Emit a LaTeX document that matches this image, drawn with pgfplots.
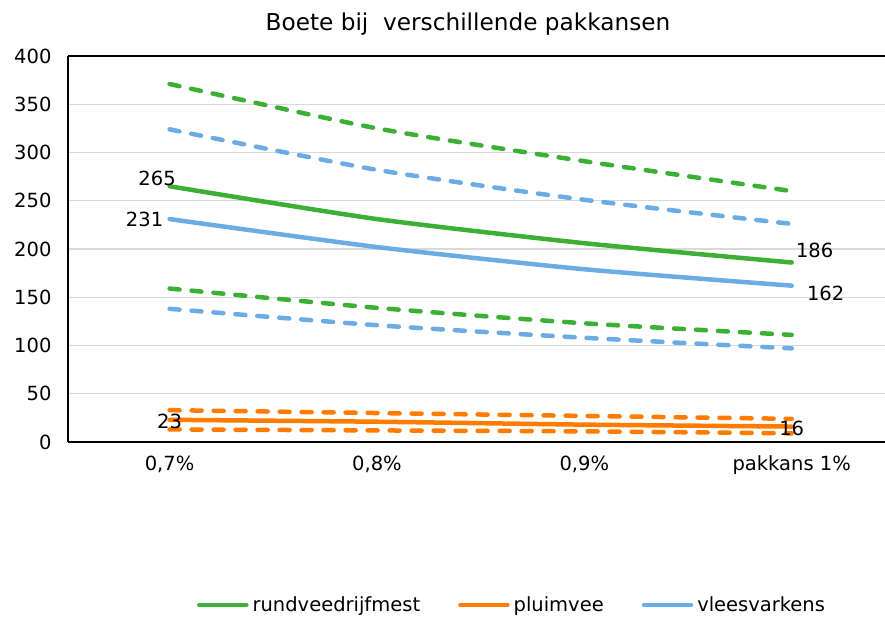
\documentclass[border=0pt]{standalone}
\usepackage{pgfplots}
\pgfplotsset{compat=1.18}
\usepackage{fontspec}
\setmainfont{DejaVu Sans}
\definecolor{cgreen}{RGB}{60,176,52}
\definecolor{corange}{RGB}{255,124,0}
\definecolor{cblue}{RGB}{108,172,228}
\definecolor{cgrid}{RGB}{217,217,217}
\begin{document}
\begin{tikzpicture}
\begin{axis}[
  scale only axis, width=817pt, height=386pt,
  xmin=-0.49, xmax=3.45, ymin=0, ymax=400,
  xtick={0,1,2,3},
  xticklabels={{0,7\%},{0,8\%},{0,9\%},{pakkans 1\%}},
  ytick={0,50,...,400},
  ymajorgrids, grid style={color=cgrid, line width=1.3pt},
  axis x line*=box, axis y line*=left,
  axis line style={black, line width=1.5pt},
  tick style={draw=none},
  tick label style={font=\fontsize{19.5}{23}\selectfont},
  /pgf/number format/assume math mode=true,
  yticklabel style={xshift=-13pt},
  xticklabel style={yshift=-10pt},
  legend style={at={(axis description cs:0.5435,-0.422)}, anchor=center, draw=none, fill=none,
    font=\fontsize{19.5}{23}\selectfont, legend columns=-1,
    /tikz/every even column/.append style={column sep=36pt},
    /tikz/every odd column/.append style={column sep=2pt}},
  legend image code/.code={\draw[#1] (0pt,0pt) -- (47pt,0pt);},
  sol/.style={line width=4.5pt, smooth, tension=0.4, line cap=round},
  das/.style={line width=4.5pt, smooth, tension=0.4, line cap=round, dash pattern=on 10pt off 12pt},
]
% dashed bands
\addplot[das, cgreen, forget plot] coordinates {(0,371) (1,325) (2,291) (3,260)};
\addplot[das, cgreen, forget plot] coordinates {(0,159) (1,139) (2,123) (3,111)};
\addplot[das, cblue, forget plot] coordinates {(0,324) (1,282) (2,251) (3,226)};
\addplot[das, cblue, forget plot] coordinates {(0,138) (1,121) (2,108) (3,97)};
\addplot[das, corange, forget plot] coordinates {(0,33) (1,30) (2,27) (3,24)};
\addplot[das, corange, forget plot] coordinates {(0,13) (1,12) (2,11) (3,9)};
% central lines
\addplot[sol, cgreen] coordinates {(0,265) (1,231) (2,206) (3,186)};
\addlegendentry{rundveedrijfmest}
\addplot[sol, corange] coordinates {(0,23) (1,21) (2,18) (3,16)};
\addlegendentry{pluimvee}
\addplot[sol, cblue] coordinates {(0,231) (1,202) (2,179) (3,162)};
\addlegendentry{vleesvarkens}
% data labels
\begin{scope}[every node/.style={font=\fontsize{19.5}{23}\selectfont, inner sep=0pt}]
\node[xshift=-12.5pt, yshift=8pt] at (axis cs:0,265) {265};
\node[xshift=-25pt, yshift=0pt] at (axis cs:0,231) {231};
\node[xshift=23pt, yshift=12pt] at (axis cs:3,186) {186};
\node[xshift=34pt, yshift=-8pt] at (axis cs:3,162) {162};
\node[xshift=0pt, yshift=-2pt] at (axis cs:0,23) {23};
\node[xshift=0pt, yshift=-2pt] at (axis cs:3,16) {16};
\end{scope}
\end{axis}
\node[font=\fontsize{23.2}{27}\selectfont] at (400pt,418pt) {Boete bij\ \ verschillende pakkansen};
\pgfresetboundingbox
\path[use as bounding box] (-68pt,-175pt) rectangle (817pt,442pt);
\end{tikzpicture}
\end{document}
